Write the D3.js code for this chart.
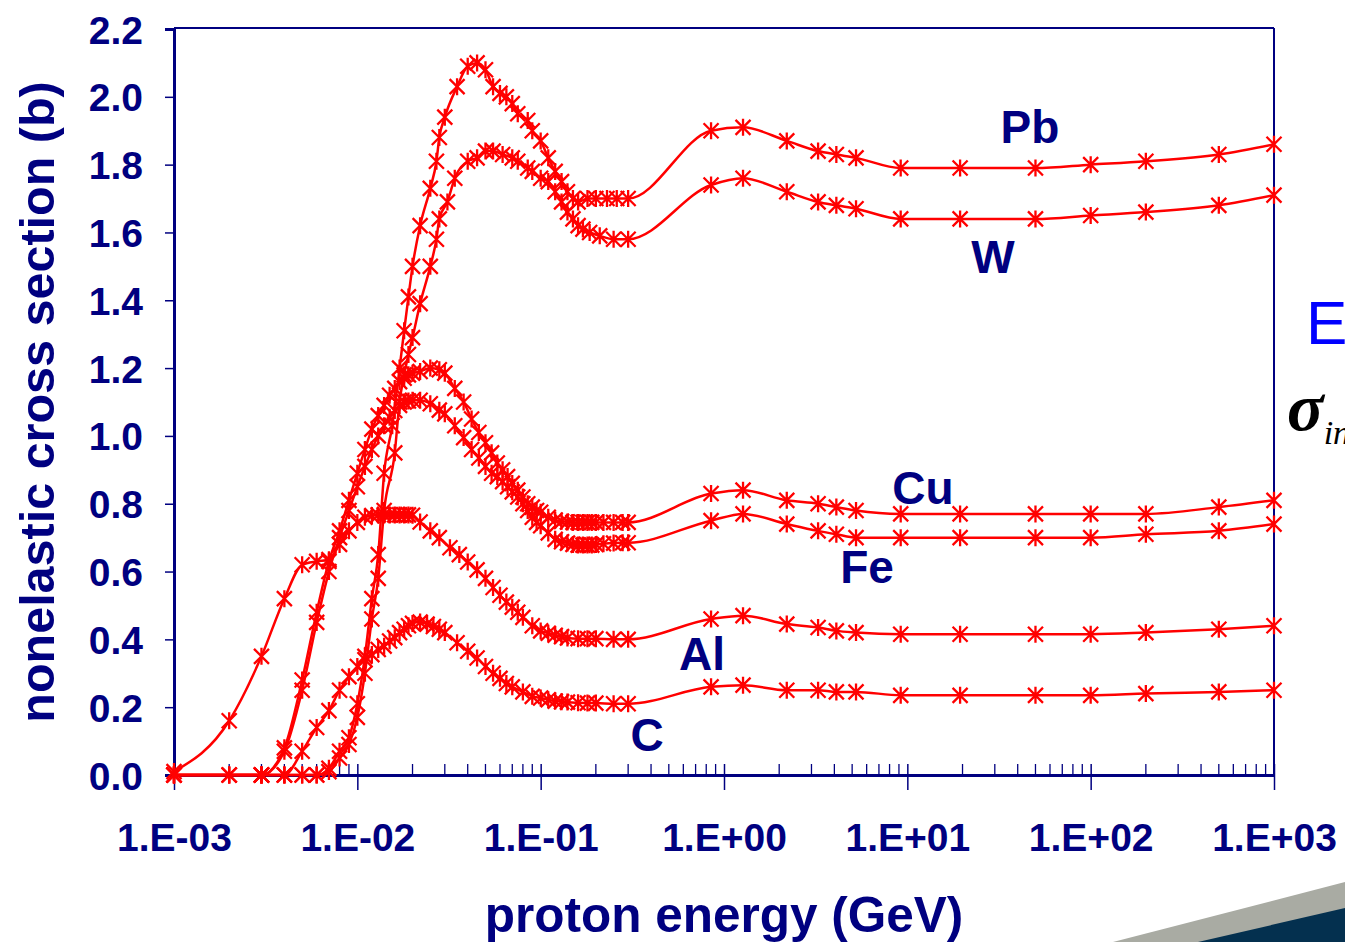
<!DOCTYPE html>
<html><head><meta charset="utf-8">
<script src="https://cdn.jsdelivr.net/npm/d3@7"></script>
<style>html,body{margin:0;padding:0;background:#fff;}svg{display:block;}</style>
</head><body>
<svg id="chart" width="1345" height="942"></svg>
<script>
// ---------------- data ----------------
const xTickLabels = ["1.E-03","1.E-02","1.E-01","1.E+00","1.E+01","1.E+02","1.E+03"];
const yTickLabels = ["0.0","0.2","0.4","0.6","0.8","1.0","1.2","1.4","1.6","1.8","2.0","2.2"];
const seriesNames = ["Pb","W","Cu","Fe","Al","C"];

// high-energy points shared by all targets (GeV)
const highE = [0.85,1.27,2.2,3.26,4.1,5.25,9.2,19.4,50,100,200,500,1000];

const pbE = [0.001,0.003,0.004,0.005,0.006,0.007,0.008,0.009,0.010,0.011,0.012,0.013,0.014,0.0155,0.017,0.018,0.019,0.020,0.022,0.025,0.027,0.028,0.030,0.035,0.040,0.045,0.050,0.055,0.060,0.065,0.070,0.075,0.085,0.090,0.10,0.11,0.12,0.13,0.14,0.15,0.16,0.18,0.20,0.23,0.26,0.30];
const pbV = [0,0,0,0,0,0.02,0.07,0.11,0.21,0.35,0.52,0.65,0.89,1.03,1.20,1.31,1.41,1.50,1.62,1.73,1.81,1.88,1.94,2.03,2.09,2.10,2.08,2.03,2.01,2.00,1.98,1.95,1.93,1.90,1.87,1.82,1.78,1.75,1.72,1.70,1.69,1.70,1.70,1.70,1.70,1.70];
const pbHigh = [1.90,1.91,1.87,1.84,1.83,1.82,1.79,1.79,1.79,1.80,1.81,1.83,1.86];

const wE = [0.001,0.003,0.004,0.005,0.006,0.007,0.008,0.009,0.010,0.011,0.012,0.013,0.014,0.016,0.017,0.018,0.019,0.020,0.022,0.025,0.027,0.028,0.031,0.034,0.040,0.045,0.050,0.055,0.062,0.070,0.075,0.085,0.090,0.10,0.11,0.12,0.13,0.14,0.15,0.16,0.17,0.185,0.21,0.25,0.30];
const wV = [0,0,0,0,0,0.01,0.05,0.09,0.17,0.30,0.46,0.58,0.78,0.95,1.10,1.18,1.24,1.29,1.39,1.50,1.58,1.64,1.69,1.76,1.81,1.82,1.84,1.84,1.83,1.82,1.81,1.79,1.78,1.76,1.75,1.72,1.69,1.66,1.64,1.62,1.61,1.60,1.59,1.58,1.58];
const wHigh = [1.74,1.76,1.72,1.69,1.68,1.67,1.64,1.64,1.64,1.65,1.66,1.68,1.71];

const cuE = [0.001,0.002,0.003,0.004,0.005,0.006,0.007,0.008,0.009,0.010,0.011,0.012,0.013,0.014,0.015,0.016,0.017,0.018,0.019,0.020,0.022,0.025,0.028,0.030,0.034,0.038,0.042,0.046,0.050,0.054,0.058,0.062,0.066,0.070,0.075,0.080,0.085,0.090,0.095,0.10,0.11,0.12,0.13,0.14,0.15,0.16,0.17,0.18,0.19,0.20,0.22,0.25,0.28,0.30];
const cuV = [0,0,0,0.08,0.28,0.48,0.63,0.72,0.81,0.89,0.96,1.02,1.06,1.09,1.12,1.14,1.16,1.17,1.18,1.185,1.19,1.20,1.195,1.185,1.14,1.10,1.05,1.01,0.98,0.95,0.92,0.90,0.88,0.86,0.84,0.82,0.80,0.79,0.78,0.775,0.76,0.752,0.748,0.746,0.745,0.745,0.745,0.745,0.745,0.745,0.745,0.745,0.745,0.745];
const cuHigh = [0.83,0.84,0.81,0.80,0.79,0.78,0.77,0.77,0.77,0.77,0.77,0.79,0.81];

const feE = cuE.slice();
const feV = [0,0,0,0.07,0.25,0.45,0.60,0.70,0.78,0.85,0.91,0.96,1.00,1.03,1.055,1.075,1.09,1.10,1.103,1.105,1.105,1.095,1.076,1.065,1.03,0.995,0.96,0.935,0.91,0.89,0.88,0.865,0.85,0.835,0.82,0.80,0.78,0.76,0.745,0.735,0.714,0.695,0.688,0.684,0.68,0.678,0.678,0.678,0.678,0.68,0.682,0.684,0.685,0.685];
const feHigh = [0.75,0.77,0.74,0.72,0.71,0.70,0.70,0.70,0.70,0.70,0.71,0.72,0.74];

const alE = [0.001,0.002,0.003,0.004,0.005,0.006,0.007,0.008,0.009,0.010,0.011,0.012,0.013,0.014,0.015,0.016,0.017,0.018,0.019,0.020,0.022,0.025,0.028,0.032,0.036,0.040,0.045,0.050,0.055,0.060,0.065,0.070,0.075,0.080,0.090,0.10,0.11,0.12,0.13,0.14,0.16,0.18,0.20,0.25,0.30];
const alV = [0.01,0.16,0.35,0.52,0.62,0.63,0.635,0.68,0.72,0.745,0.76,0.765,0.767,0.767,0.767,0.767,0.767,0.767,0.767,0.766,0.746,0.72,0.70,0.67,0.65,0.628,0.605,0.58,0.553,0.53,0.51,0.495,0.48,0.465,0.44,0.425,0.418,0.412,0.408,0.404,0.402,0.402,0.402,0.40,0.40];
const alHigh = [0.46,0.47,0.445,0.435,0.425,0.42,0.415,0.415,0.415,0.415,0.42,0.43,0.44];

const cE = [0.001,0.002,0.003,0.004,0.005,0.006,0.007,0.008,0.009,0.010,0.011,0.012,0.013,0.014,0.015,0.016,0.017,0.018,0.019,0.020,0.022,0.024,0.026,0.028,0.030,0.035,0.040,0.045,0.050,0.055,0.060,0.065,0.070,0.080,0.090,0.10,0.11,0.12,0.13,0.14,0.16,0.18,0.20,0.25,0.30];
const cV = [0,0,0,0,0.07,0.14,0.19,0.25,0.29,0.32,0.34,0.355,0.37,0.38,0.395,0.405,0.42,0.43,0.44,0.447,0.451,0.445,0.438,0.43,0.42,0.39,0.365,0.345,0.32,0.30,0.285,0.27,0.26,0.245,0.232,0.227,0.222,0.218,0.216,0.215,0.213,0.212,0.212,0.21,0.21];
const cHigh = [0.26,0.265,0.25,0.25,0.245,0.245,0.235,0.235,0.235,0.235,0.24,0.245,0.25];

// ---------------- chart ----------------
const NAVY = "#000080";
const RED = "#ff0000";
const FONT = "'Liberation Sans', Arial, Helvetica, sans-serif";
const svg = d3.select("#chart");
const L = 174, R = 1274, T = 29, B = 775;

const x = d3.scaleLog().domain([1e-3, 1e3]).range([L, R]);
const y = d3.scaleLinear().domain([0, 2.2]).range([B, T]);

const build = (eLow, vLow, vHigh) =>
  eLow.map((e, i) => ({e, v: vLow[i]})).concat(highE.map((e, i) => ({e, v: vHigh[i]})));
const series = [
  {name: "Pb", pts: build(pbE, pbV, pbHigh)},
  {name: "W",  pts: build(wE, wV, wHigh)},
  {name: "Cu", pts: build(cuE, cuV, cuHigh)},
  {name: "Fe", pts: build(feE, feV, feHigh)},
  {name: "Al", pts: build(alE, alV, alHigh)},
  {name: "C",  pts: build(cE, cV, cHigh)}
];

// decorative slide corner
svg.append("polygon").attr("points", "1113,942 1345,882 1345,942").attr("fill", "#a9aba3");
svg.append("polygon").attr("points", "1198,942 1345,908 1345,942").attr("fill", "#04304f");

// frame top & right
svg.append("line").attr("x1", L).attr("x2", R).attr("y1", T - 1).attr("y2", T - 1)
  .attr("stroke", NAVY).attr("stroke-width", 2);
svg.append("line").attr("x1", R).attr("x2", R).attr("y1", T - 1).attr("y2", B)
  .attr("stroke", NAVY).attr("stroke-width", 2);

// y axis
const yAxis = d3.axisLeft(y).tickValues(d3.range(0, 12).map(i => i * 0.2))
  .tickFormat((d, i) => yTickLabels[i]).tickSize(9).tickPadding(22);
const gy = svg.append("g").attr("transform", `translate(${L},0)`).call(yAxis);
gy.select(".domain").attr("stroke", NAVY).attr("stroke-width", 3);
gy.selectAll(".tick line").attr("stroke", NAVY).attr("stroke-width", 1.5);
gy.selectAll(".tick text").attr("fill", NAVY).attr("font-family", FONT)
  .attr("font-weight", "bold").attr("font-size", 39).attr("dy", "0.36em");

// x axis: minor ticks inside, major ticks crossing
const minor = [];
for (let k = -3; k < 3; k++) for (let m = 2; m <= 9; m++) minor.push(m * Math.pow(10, k));
svg.append("g").selectAll("line").data(minor).join("line")
  .attr("x1", d => x(d)).attr("x2", d => x(d)).attr("y1", B).attr("y2", B - 11)
  .attr("stroke", NAVY).attr("stroke-width", 1.3);
const majors = [1e-3, 1e-2, 1e-1, 1, 10, 100, 1000];
const xAxis = d3.axisBottom(x).tickValues(majors)
  .tickFormat((d, i) => xTickLabels[i]).tickSizeInner(15).tickSizeOuter(0).tickPadding(53);
const gx = svg.append("g").attr("transform", `translate(0,${B})`).call(xAxis);
gx.select(".domain").attr("stroke", NAVY).attr("stroke-width", 3);
gx.selectAll(".tick line").attr("stroke", NAVY).attr("stroke-width", 1.5).attr("y1", -11);
gx.selectAll(".tick text").attr("fill", NAVY).attr("font-family", FONT)
  .attr("font-weight", "bold").attr("font-size", 39).attr("dy", "0.2em");

// axis titles
svg.append("text").attr("x", (L + R) / 2).attr("y", 932).attr("text-anchor", "middle")
  .attr("fill", NAVY).attr("font-family", FONT).attr("font-weight", "bold").attr("font-size", 49.5)
  .text("proton energy (GeV)");
svg.append("text").attr("transform", "translate(54,402) rotate(-90)").attr("text-anchor", "middle")
  .attr("fill", NAVY).attr("font-family", FONT).attr("font-weight", "bold").attr("font-size", 48.5)
  .text("nonelastic cross section (b)");

// series
const line = d3.line().x(d => x(d.e)).y(d => y(d.v)).curve(d3.curveMonotoneX);
const star = "M-7.5,-7.5L7.5,7.5M-7.5,7.5L7.5,-7.5M0,-8.5L0,8.5";
const gs = svg.append("g");
series.forEach(s => {
  gs.append("path").attr("d", line(s.pts)).attr("fill", "none")
    .attr("stroke", RED).attr("stroke-width", 2.5);
  gs.append("g").selectAll("path").data(s.pts).join("path")
    .attr("transform", d => `translate(${x(d.e)},${y(d.v)})`)
    .attr("d", star).attr("stroke", RED).attr("stroke-width", 2.3).attr("fill", "none");
});

// series labels
const labelPos = {Pb: [1030, 143], W: [993, 273], Cu: [923, 504], Fe: [867, 583], Al: [702, 670], C: [647, 751]};
svg.append("g").selectAll("text").data(seriesNames).join("text")
  .attr("x", d => labelPos[d][0]).attr("y", d => labelPos[d][1]).attr("text-anchor", "middle")
  .attr("fill", NAVY).attr("font-family", FONT).attr("font-weight", "bold").attr("font-size", 46)
  .text(d => d);

// slide text cut off at right edge (as in the source slide)
svg.append("text").attr("x", 1306).attr("y", 344).attr("fill", "#0000ff")
  .attr("font-family", FONT).attr("font-size", 62).text("E");
const sig = svg.append("text").attr("x", 1287).attr("y", 430).attr("fill", "#000")
  .attr("font-family", "'Liberation Serif', 'Times New Roman', serif").attr("font-style", "italic");
sig.append("tspan").attr("font-size", 68).attr("font-weight", "bold").text("σ");
sig.append("tspan").attr("font-size", 34).attr("dy", 14).text("in");
</script>
</body></html>
